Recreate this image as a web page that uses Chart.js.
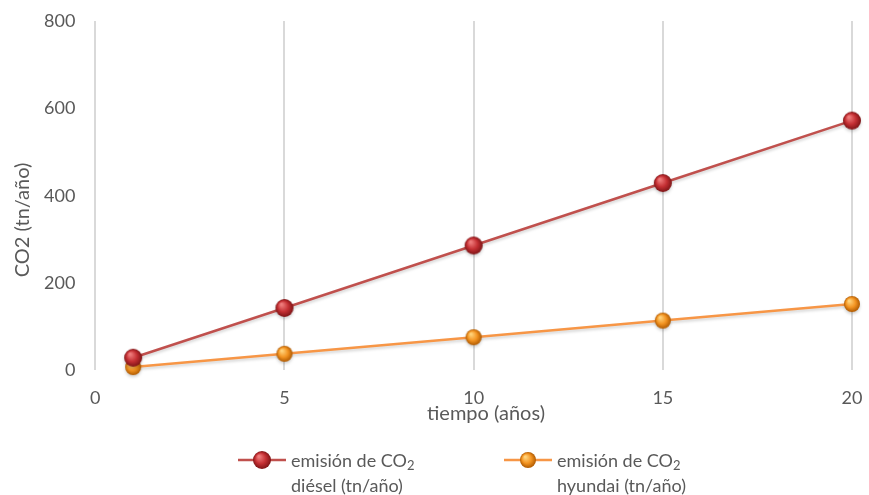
<!DOCTYPE html>
<html lang="es">
<head>
<meta charset="utf-8">
<script src="https://cdn.jsdelivr.net/npm/chart.js@4/dist/chart.umd.min.js"></script>
<style>
  html, body { margin: 0; padding: 0; background: #fff; }
  #wrap { position: relative; width: 869px; height: 495px; }
  #chart { position: absolute; left: 0; top: 0; }
  .legend { position: absolute; top: 448px; display: flex; align-items: flex-start;
            font-family: Lato, "Open Sans", sans-serif; font-size: 18px; color: #595959; line-height: 25px; }
  .legend canvas { margin-top: 1px; margin-right: 5px; }
  .legend sub { font-size: 13px; vertical-align: -3px; line-height: 0; }
</style>
</head>
<body>
<div id="wrap">
  <canvas id="chart" width="869" height="495"></canvas>
  <div class="legend" id="leg1" style="left:238px"></div>
  <div class="legend" id="leg2" style="left:504px"></div>
</div>
<script>
// años y emisiones
const years = [1, 5, 10, 15, 20];
const dieselCO2 = [29, 143, 286, 429, 572];
const hyundaiCO2 = [7.6, 38, 76, 114, 152];
const xTicks = [0, 5, 10, 15, 20];
const yTicks = [0, 200, 400, 600, 800];

const FONT = 'Lato, "Open Sans", sans-serif';
const GRAY = '#595959';

// bolita con brillo para los marcadores
function sphere(r, light, mid, dark) {
  const c = document.createElement('canvas');
  c.width = c.height = r * 2 + 2;
  const g = c.getContext('2d');
  const cx = r + 1, cy = r + 1;
  const grad = g.createRadialGradient(cx - r * 0.35, cy - r * 0.4, r * 0.1, cx, cy, r);
  grad.addColorStop(0, light);
  grad.addColorStop(0.55, mid);
  grad.addColorStop(1, dark);
  g.fillStyle = grad;
  g.beginPath();
  g.arc(cx, cy, r, 0, Math.PI * 2);
  g.fill();
  return c;
}

const redBall = sphere(9, '#ee7b7b', '#c42f33', '#7d1416');
const orangeBall = sphere(8, '#ffd27a', '#f39422', '#b05a00');

// muestra de leyenda: línea + bolita
function legendSample(color, ball) {
  const c = document.createElement('canvas');
  c.width = 48; c.height = 22;
  const g = c.getContext('2d');
  g.strokeStyle = color;
  g.lineWidth = 2.5;
  g.beginPath(); g.moveTo(0, 11); g.lineTo(48, 11); g.stroke();
  g.drawImage(ball, 24 - ball.width / 2, 11 - ball.height / 2);
  return c;
}

function buildLegend(id, color, ball, second) {
  const el = document.getElementById(id);
  el.appendChild(legendSample(color, ball));
  const txt = document.createElement('div');
  txt.innerHTML = 'emisión de CO<sub>2</sub><br>' + second;
  el.appendChild(txt);
}
buildLegend('leg1', '#c0504d', redBall, 'diésel (tn/año)');
buildLegend('leg2', '#f79646', orangeBall, 'hyundai (tn/año)');

const lineShadow = {
  id: 'lineShadow',
  beforeDatasetsDraw(chart) {
    const ctx = chart.ctx;
    ctx.save();
    ctx.shadowColor = 'rgba(0,0,0,0.18)';
    ctx.shadowBlur = 3;
    ctx.shadowOffsetY = 2;
  },
  afterDatasetsDraw(chart) { chart.ctx.restore(); }
};

// títulos de los ejes
const axisTitles = {
  id: 'axisTitles',
  afterDraw(chart) {
    const ctx = chart.ctx;
    ctx.save();
    ctx.fillStyle = GRAY;
    ctx.textAlign = 'center';
    ctx.textBaseline = 'middle';
    ctx.font = '20px ' + FONT;
    ctx.fillText('tiempo (años)', 486, 414);
    ctx.translate(23, 220);
    ctx.rotate(-Math.PI / 2);
    ctx.font = '20px ' + FONT;
    ctx.fillText('CO2 (tn/año)', 0, 0);
    ctx.restore();
  }
};

new Chart(document.getElementById('chart'), {
  type: 'line',
  data: {
    datasets: [
      {
        label: 'emisión de CO2 diésel (tn/año)',
        data: years.map((x, i) => ({ x, y: dieselCO2[i] })),
        borderColor: '#c0504d',
        borderWidth: 2.5,
        pointStyle: redBall,
        pointRadius: 9,
        pointHoverRadius: 9,
        clip: false
      },
      {
        label: 'emisión de CO2 hyundai (tn/año)',
        data: years.map((x, i) => ({ x, y: hyundaiCO2[i] })),
        borderColor: '#f79646',
        borderWidth: 2.5,
        pointStyle: orangeBall,
        pointRadius: 8,
        pointHoverRadius: 8,
        clip: false
      }
    ]
  },
  options: {
    responsive: false,
    animation: false,
    events: [],
    layout: { autoPadding: false, padding: { left: 44, right: 17, top: 21, bottom: 86 } },
    plugins: { legend: { display: false }, tooltip: { enabled: false } },
    scales: {
      x: {
        type: 'linear',
        min: 0, max: 20,
        afterBuildTicks: s => { s.ticks = xTicks.map(v => ({ value: v })); },
        grid: { color: '#d9d9d9', lineWidth: 2, tickLength: 17, tickColor: 'rgba(0,0,0,0)' },
        border: { display: false },
        ticks: { color: GRAY, font: { family: FONT, size: 18 }, padding: 0 }
      },
      y: {
        min: 0, max: 800,
        afterBuildTicks: s => { s.ticks = yTicks.map(v => ({ value: v })); },
        grid: { display: false, tickLength: 20 },
        border: { display: false },
        ticks: { color: GRAY, font: { family: FONT, size: 18 }, padding: 0 }
      }
    }
  },
  plugins: [lineShadow, axisTitles]
});
</script>
</body>
</html>
